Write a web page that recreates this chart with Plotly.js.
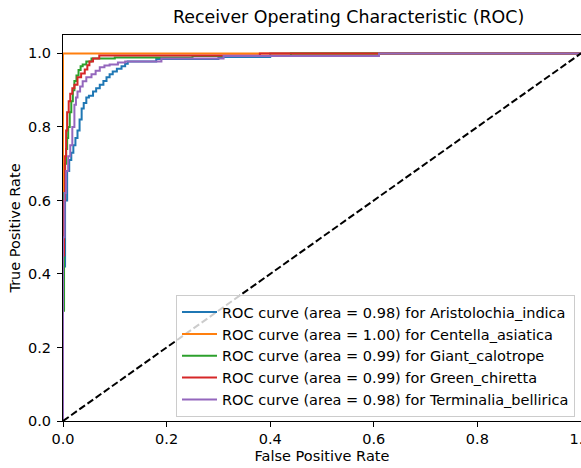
<!DOCTYPE html>
<html>
<head>
<meta charset="utf-8">
<script src="https://cdn.plot.ly/plotly-3.0.1.min.js"></script>
<style>html,body{margin:0;padding:0;background:#fff;overflow:hidden;}#wrap{width:581px;height:468px;overflow:hidden;}#chart{width:584px;height:468px;}</style>
</head>
<body>
<div id="wrap"><div id="chart"></div></div>
<script>
// Class names and AUC values
const classNames = ["Aristolochia_indica", "Centella_asiatica", "Giant_calotrope", "Green_chiretta", "Terminalia_bellirica"];
const aucValues = [0.98, 1.00, 0.99, 0.99, 0.98];

// ROC curve points (FPR / TPR)
const fprAristolochia = [0, 0, 0.004, 0.008, 0.012, 0.016, 0.02, 0.024, 0.028, 0.032, 0.036, 0.04, 0.045, 0.05, 0.058, 0.064, 0.071, 0.078, 0.084, 0.09, 0.096, 0.104, 0.113, 0.12, 0.125, 0.18, 0.3, 0.4, 1];
const tprAristolochia = [0, 0.42, 0.6, 0.68, 0.71, 0.73, 0.75, 0.77, 0.79, 0.82, 0.85, 0.865, 0.88, 0.885, 0.896, 0.905, 0.915, 0.925, 0.935, 0.943, 0.951, 0.958, 0.965, 0.972, 0.978, 0.985, 0.99, 1, 1];

const fprCentella = [0, 0, 1];
const tprCentella = [0, 1, 1];

const fprGiant = [0, 0, 0.002, 0.004, 0.006, 0.008, 0.010, 0.013, 0.016, 0.019, 0.022, 0.026, 0.030, 0.034, 0.038, 0.045, 0.055, 0.1, 0.25, 0.44, 1];
const tprGiant = [0, 0.3, 0.62, 0.70, 0.74, 0.77, 0.80, 0.84, 0.87, 0.9, 0.925, 0.94, 0.955, 0.965, 0.97, 0.978, 0.986, 0.989, 0.993, 1, 1];

const fprGreen = [0, 0, 0.002, 0.004, 0.006, 0.008, 0.011, 0.014, 0.018, 0.022, 0.028, 0.035, 0.042, 0.047, 0.051, 0.058, 0.07, 0.38, 1];
const tprGreen = [0, 0.45, 0.6, 0.72, 0.79, 0.84, 0.87, 0.89, 0.905, 0.915, 0.935, 0.945, 0.956, 0.968, 0.978, 0.986, 0.994, 1, 1];

const fprTerminalia = [0, 0, 0.003, 0.006, 0.01, 0.014, 0.018, 0.022, 0.025, 0.028, 0.033, 0.038, 0.045, 0.055, 0.063, 0.071, 0.08, 0.09, 0.106, 0.12, 0.19, 0.31, 0.61, 1];
const tprTerminalia = [0, 0.5, 0.62, 0.68, 0.72, 0.75, 0.8, 0.86, 0.88, 0.896, 0.91, 0.924, 0.935, 0.943, 0.953, 0.962, 0.967, 0.97, 0.975, 0.978, 0.986, 0.993, 1, 1];

const fprList = [fprAristolochia, fprCentella, fprGiant, fprGreen, fprTerminalia];
const tprList = [tprAristolochia, tprCentella, tprGiant, tprGreen, tprTerminalia];
const colors = ["#1f77b4", "#ff7f0e", "#2ca02c", "#d62728", "#9467bd"];

const diagX = [0, 1];
const diagY = [0, 1];
const tickVals = [0, 0.2, 0.4, 0.6, 0.8, 1.0];

const traces = classNames.map((name, i) => ({
  x: fprList[i], y: tprList[i], type: "scatter", mode: "lines",
  line: {color: colors[i], width: 2, shape: "hv"},
  name: "ROC curve (area = " + aucValues[i].toFixed(2) + ") for " + name,
  hoverinfo: "skip"
}));
traces.push({
  x: diagX, y: diagY, type: "scatter", mode: "lines",
  line: {color: "#000", width: 2, dash: "7px,3px"},
  showlegend: false, hoverinfo: "skip"
});

const font = {family: "DejaVu Sans", size: 14.5, color: "#000"};
const layout = {
  width: 584, height: 468,
  margin: {l: 63, r: 3, t: 35, b: 47, pad: 0},
  paper_bgcolor: "#fff", plot_bgcolor: "#fff",
  font: font,
  showlegend: true,
  title: {text: "Receiver Operating Characteristic (ROC)", font: {family: "DejaVu Sans", size: 17.4, color: "#000"}, x: 322 / 584, xref: "paper", xanchor: "center", y: 1, yref: "container", yanchor: "top", pad: {t: 11}},
  xaxis: {
    range: [0, 1], tickvals: tickVals, tickformat: ".1f",
    showgrid: false, zeroline: false,
    showline: true, mirror: true, linecolor: "#000", linewidth: 1,
    ticks: "outside", ticklen: 5, tickcolor: "#000", tickwidth: 1,
    tickfont: font, ticklabeloverflow: "allow",
    title: {text: "False Positive Rate", font: font, standoff: 4}
  },
  yaxis: {
    range: [0, 1.05], tickvals: tickVals, tickformat: ".1f",
    showgrid: false, zeroline: false,
    showline: true, mirror: true, linecolor: "#000", linewidth: 1,
    ticks: "outside", ticklen: 5, tickcolor: "#000", tickwidth: 1,
    tickfont: font, ticklabelstandoff: 3,
    title: {text: "True Positive Rate", font: font, standoff: 3}
  },
  legend: {
    x: (575 - 63) / 518, y: 0.01, xanchor: "right", yanchor: "bottom",
    bgcolor: "rgba(255,255,255,0.8)", bordercolor: "#cccccc", borderwidth: 1,
    font: font, traceorder: "normal", itemwidth: 35
  }
};

Plotly.newPlot("chart", traces, layout, {displayModeBar: false, staticPlot: true});
</script>
</body>
</html>
